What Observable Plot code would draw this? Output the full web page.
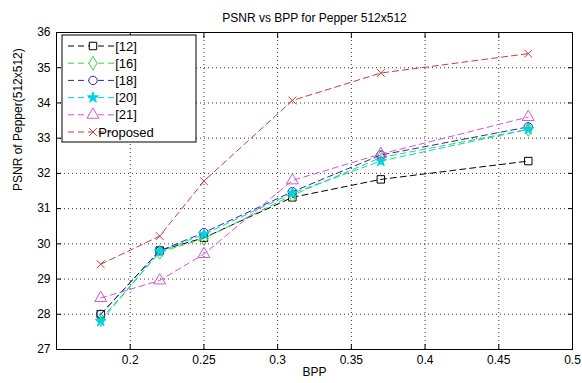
<!DOCTYPE html>
<html>
<head>
<meta charset="utf-8">
<script src="https://cdn.jsdelivr.net/npm/d3@7"></script>
<script src="https://cdn.jsdelivr.net/npm/@observablehq/plot@0.6"></script>
<style>
  html, body { margin: 0; padding: 0; background: #fff; }
  #chart svg { display: block; }
</style>
</head>
<body>
<div id="chart"></div>
<script>
// Bit rate (bits per pixel) at which each method was measured
const bpp = [0.18, 0.22, 0.25, 0.31, 0.37, 0.47];

// Method names, in legend order
const methods = ["[12]", "[16]", "[18]", "[20]", "[21]", "Proposed"];

// PSNR (dB) on Pepper 512x512 for each method
const psnr12 = [28.0, 29.81, 30.17, 31.32, 31.83, 32.35];
const psnr16 = [27.85, 29.76, 30.15, 31.38, 32.45, 33.25];
const psnr18 = [28.0, 29.8, 30.32, 31.48, 32.52, 33.32];
const psnr20 = [27.8, 29.78, 30.27, 31.44, 32.35, 33.25];
const psnr21 = [28.46, 28.96, 29.71, 31.8, 32.55, 33.6];
const psnrProposed = [29.42, 30.22, 31.78, 34.07, 34.85, 35.4];

// Axis ticks
const xTicks = [0.2, 0.25, 0.3, 0.35, 0.4, 0.45, 0.5];
const yTicks = [27, 28, 29, 30, 31, 32, 33, 34, 35, 36];

const psnrByMethod = [psnr12, psnr16, psnr18, psnr20, psnr21, psnrProposed];
const rows = methods.flatMap((m, i) =>
  bpp.map((b, j) => ({ method: m, bpp: b, psnr: psnrByMethod[i][j] }))
);

// Line colour, marker symbol, marker size and fill per method
const style = {
  "[12]":     { color: "#000000", symbol: "square",   r: 4.2, fill: "none" },
  "[16]":     { color: "#3bd63b", symbol: "diamond",  r: 4.2, fill: "none" },
  "[18]":     { color: "#2b2ba6", symbol: "circle",   r: 4.2, fill: "none" },
  "[20]":     { color: "#00d4e4", symbol: "star",     r: 3.4, fill: "#00d4e4" },
  "[21]":     { color: "#d455d4", symbol: "triangle", r: 4.4, fill: "none" },
  "Proposed": { color: "#c83c3c", symbol: "times",    r: 3.6, fill: "none" }
};
const dash = "6,4";
const font = "'Liberation Sans', Arial, Helvetica, sans-serif";

const seriesMarks = methods.flatMap(m => {
  const d = rows.filter(r => r.method === m);
  const s = style[m];
  return [
    Plot.line(d, { x: "bpp", y: "psnr", stroke: s.color, strokeWidth: 1, strokeDasharray: dash }),
    Plot.dot(d, { x: "bpp", y: "psnr", stroke: s.color, fill: s.fill, symbol: s.symbol, r: s.r, strokeWidth: 1 })
  ];
});

const chart = Plot.plot({
  width: 582,
  height: 383,
  marginLeft: 56,
  marginRight: 10,
  marginTop: 32,
  marginBottom: 34,
  style: { fontFamily: font, fontSize: "12px", background: "#fff", color: "#000" },
  x: { domain: [0.15, 0.5] },
  y: { domain: [27, 36] },
  marks: [
    Plot.gridX(xTicks, { stroke: "#000", strokeOpacity: 0.8, strokeDasharray: "1,3" }),
    Plot.gridY(yTicks, { stroke: "#000", strokeOpacity: 0.8, strokeDasharray: "1,3" }),
    // inward tick marks on all four sides
    Plot.axisX(xTicks, { anchor: "bottom", tickSize: -5, text: null, label: null }),
    Plot.axisX(xTicks, { anchor: "top", tickSize: -5, text: null, label: null }),
    Plot.axisY(yTicks, { anchor: "left", tickSize: -5, text: null, label: null }),
    Plot.axisY(yTicks, { anchor: "right", tickSize: -5, text: null, label: null }),
    // tick labels
    Plot.axisX(xTicks, { anchor: "bottom", tickSize: 0, tickPadding: 6, tickFormat: d => String(d), fontSize: 12, label: null }),
    Plot.axisY(yTicks, { anchor: "left", tickSize: 0, tickPadding: 6, tickFormat: d => String(d), fontSize: 12, label: null }),
    Plot.frame({ stroke: "#000", strokeWidth: 1 }),
    ...seriesMarks,
    // title and axis labels
    Plot.text(["PSNR vs BPP for Pepper 512x512"], { frameAnchor: "top", dy: -19, fontSize: 12, text: d => d }),
    Plot.text(["BPP"], { frameAnchor: "bottom", dy: 26, fontSize: 12, text: d => d }),
    Plot.text(["PSNR of Pepper(512x512)"], { frameAnchor: "left", dx: -38, rotate: -90, fontSize: 12, text: d => d })
  ]
});

// Legend box in the upper-left corner of the axes
const svg = d3.select(chart);
const lg = svg.append("g").attr("font-family", font).attr("font-size", 13);
const box = { x: 62, y: 35, w: 134, h: 107 };
lg.append("rect")
  .attr("x", box.x).attr("y", box.y).attr("width", box.w).attr("height", box.h)
  .attr("fill", "#fff").attr("stroke", "#000").attr("stroke-width", 1);
const symbolTypes = {
  square: d3.symbolSquare, diamond: d3.symbolDiamond, circle: d3.symbolCircle,
  star: d3.symbolStar, triangle: d3.symbolTriangle, times: d3.symbolTimes
};
methods.forEach((m, i) => {
  const s = style[m];
  const cy = box.y + 11 + i * 17.2;
  lg.append("line")
    .attr("x1", box.x + 6).attr("x2", box.x + 56).attr("y1", cy).attr("y2", cy)
    .attr("stroke", s.color).attr("stroke-dasharray", "6,4");
  lg.append("path")
    .attr("transform", `translate(${box.x + 31},${cy})`)
    .attr("d", d3.symbol(symbolTypes[s.symbol], Math.PI * s.r * s.r)())
    .attr("fill", s.fill === "none" ? "#fff" : s.fill).attr("stroke", s.color);
  lg.append("text")
    .attr("x", box.x + 64).attr("y", cy).attr("dy", "0.35em")
    .text(m);
});

document.getElementById("chart").appendChild(chart);
</script>
</body>
</html>
